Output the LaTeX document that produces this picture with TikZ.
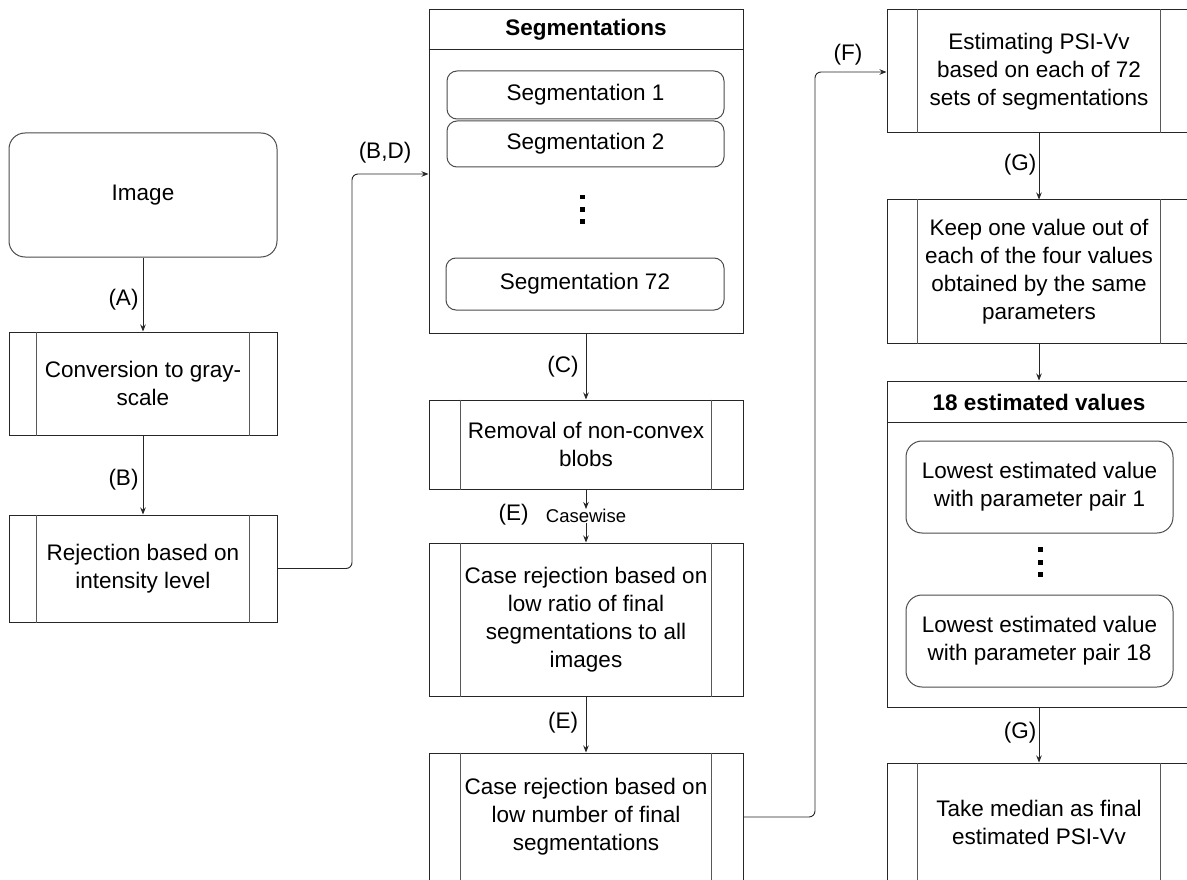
\documentclass[tikz,border=0pt]{standalone}
\usepackage{fontspec}
\setmainfont{Liberation Sans}
\usetikzlibrary{arrows.meta}
\begin{document}
\begin{tikzpicture}[x=1pt,y=-1pt,
  every node/.style={font=\fontsize{22.5}{28}\selectfont, inner sep=0pt, align=center, text=black},
  box/.style={draw=black!85, line width=1pt},
  rbox/.style={draw=black!70, line width=1pt, rounded corners=#1},
  rbox/.default=10pt,
  inner/.style={draw=black!65, line width=1pt},
  arr/.style={draw=black!85, line width=0.9pt, -{Stealth[length=7pt,width=5.5pt]}},
  lbl/.style={},
  small/.style={font=\fontsize{18.5}{22}\selectfont},
  hdr/.style={font=\fontsize{22.5}{27}\selectfont\bfseries}
]
\useasboundingbox (0,0) rectangle (1187,880);
\clip (0,0) rectangle (1187,880);
\fill[white] (0,0) rectangle (1187,880);

% left column
\node[rbox=16pt, minimum width=268pt, minimum height=124pt] (img) at (143,195) {Image};
\node[box, minimum width=268pt, minimum height=103pt] (conv) at (143,383.5) {Conversion to gray-\\scale};
\node[box, minimum width=268pt, minimum height=107pt] (rej) at (143,568.5) {Rejection based on\\intensity level};

% middle column
\node[box, minimum width=314pt, minimum height=323pt] (seg) at (586,171.5) {};
\draw[box] ([yshift=-40pt]seg.north west) -- ([yshift=-40pt]seg.north east);
\node[hdr] (segt) at (586,30) {Segmentations};
\node[rbox, minimum width=277pt, minimum height=48pt] (s1) at (585.5,95) {Segmentation 1};
\node[rbox, minimum width=277pt, minimum height=46pt] (s2) at (585.5,144) {Segmentation 2};
\node[rbox, minimum width=278pt, minimum height=52pt] (s72) at (585,284) {Segmentation 72};
\foreach \yy in {197,209.5,221.5} \fill[black] (580.2,\yy-2.3) rectangle (584.8,\yy+2.3);

\node[box, minimum width=314pt, minimum height=89pt] (rem) at (586,444.5) {Removal of non-convex\\blobs};
\node[small] (cw) at (586,516) {Casewise};
\node[box, minimum width=314pt, minimum height=153pt] (case1) at (586,619.5) {Case rejection based on\\low ratio of final\\segmentations to all\\images};
\node[box, minimum width=314pt, minimum height=128pt] (case2) at (586,817) {Case rejection based on\\low number of final\\segmentations};

% right column
\node[box, minimum width=304pt, minimum height=123pt] (est) at (1039,71.5) {Estimating PSI-Vv\\based on each of 72\\sets of segmentations};
\node[box, minimum width=304pt, minimum height=143pt] (keep) at (1039,271.5) {Keep one value out of\\each of the four values\\obtained by the same\\parameters};
\node[box, minimum width=304pt, minimum height=326pt] (est18) at (1039,544) {};
\draw[box] ([yshift=-42pt]est18.north west) -- ([yshift=-42pt]est18.north east);
\node[hdr] (est18t) at (1039,402) {18 estimated values};
\node[rbox=16pt, minimum width=267pt, minimum height=92pt] (low1) at (1039.5,487) {Lowest estimated value\\with parameter pair 1};
\node[rbox=16pt, minimum width=267pt, minimum height=92pt] (low18) at (1039.5,641) {Lowest estimated value\\with parameter pair 18};
\foreach \yy in {549.5,562,574.5} \fill[black] (1037.5,\yy-2.5) rectangle (1042.5,\yy+2.5);
\node[box, minimum width=304pt, minimum height=118pt] (take) at (1039,822) {Take median as final\\estimated PSI-Vv};

% process side bars
\foreach \n/\o in {conv/28,rej/28,rem/32,case1/32,case2/32,est/31,keep/31,take/31}{
  \draw[inner] ([xshift=\o pt]\n.north west) -- ([xshift=\o pt]\n.south west);
  \draw[inner] ([xshift=-\o pt]\n.north east) -- ([xshift=-\o pt]\n.south east);
}

% connectors
\coordinate (bdc) at (352,174);
\coordinate (fc) at (815,72);
\draw[arr] (img) -- (conv);
\draw[arr] (conv) -- (rej);
\draw[arr, rounded corners=6pt] (rej.east) -| (bdc) -- (seg.west |- bdc);
\draw[arr] (seg) -- (rem);
\draw[arr] (rem) -- (cw);
\draw[arr] (cw) -- (case1);
\draw[arr] (case1) -- (case2);
\draw[arr, rounded corners=6pt] (case2.east) -| (fc) -- (est.west |- fc);
\draw[arr] (est) -- (keep);
\draw[arr] (keep) -- (est18);
\draw[arr] (est18) -- (take);

% labels
\node[lbl] (la) at (123.5,300) {(A)};
\node[lbl] (lb) at (123.5,480) {(B)};
\node[lbl] (lbd) at (385,153) {(B,D)};
\node[lbl] (lc) at (563,367) {(C)};
\node[lbl] (le1) at (513.5,515) {(E)};
\node[lbl] (le2) at (563,723) {(E)};
\node[lbl] (lf) at (848,55) {(F)};
\node[lbl] (lg1) at (1020,165) {(G)};
\node[lbl] (lg2) at (1020,733) {(G)};
\end{tikzpicture}
\end{document}
